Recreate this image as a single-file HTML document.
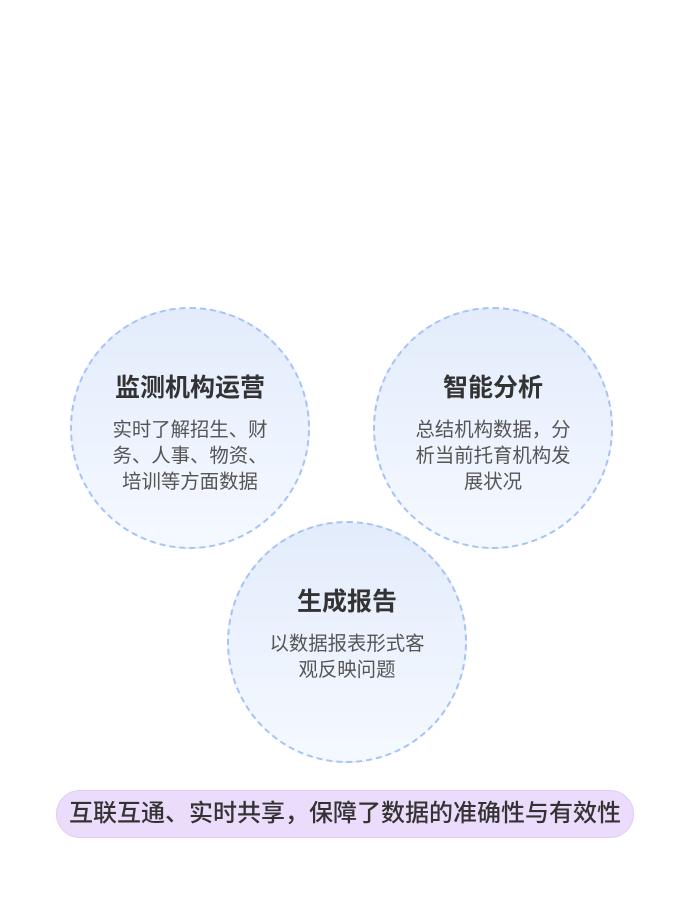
<!DOCTYPE html>
<html><head><meta charset="utf-8"><style>
body{margin:0;width:690px;height:904px;background:#fff;position:relative;font-family:"Liberation Sans","Noto Sans CJK SC",sans-serif;overflow:hidden}
.c{position:absolute;width:240px;height:242px;border-radius:50%;border:2px dashed #a6c3f6;background:linear-gradient(#e3ecfc,#f5f9ff);box-sizing:border-box;text-align:center}
.t{position:absolute;left:0;right:0;top:64px;font-size:25px;line-height:30px;font-weight:bold;color:#333}
.b{position:absolute;left:38px;right:38px;top:108px;font-size:19.4px;line-height:26px;color:#555;word-break:break-all}
.p{position:absolute;left:56px;top:790px;width:578px;height:48px;border-radius:24px;background:#ecdcfb;border:1.5px solid #e2cbf8;box-sizing:border-box;text-align:center;font-size:24px;line-height:45px;color:#333;font-weight:500;white-space:nowrap}
</style></head><body>
<div class="c" style="left:70px;top:307px"><div class="t">监测机构运营</div><div class="b">实时了解招生、财务、人事、物资、<br>培训等方面数据</div></div>
<div class="c" style="left:373px;top:307px"><div class="t">智能分析</div><div class="b">总结机构数据，分析当前托育机构发展状况</div></div>
<div class="c" style="left:227px;top:521px"><div class="t">生成报告</div><div class="b">以数据报表形式客观反映问题</div></div>
<div class="p">互联互通、实时共享，保障了数据的准确性与有效性</div>
</body></html>
